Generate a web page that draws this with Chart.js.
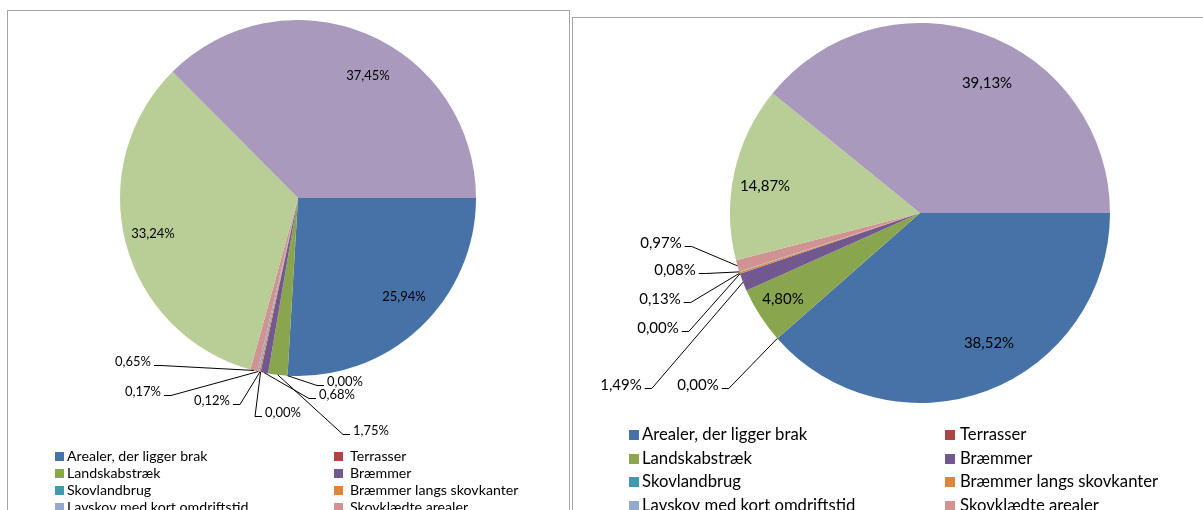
<!DOCTYPE html>
<html>
<head>
<meta charset="utf-8">
<script src="https://cdn.jsdelivr.net/npm/chart.js@4.4.1/dist/chart.umd.min.js"></script>
<style>
    body { margin: 0; background: #fff; width: 1203px; height: 510px; overflow: hidden; position: relative; }
    .box { position: absolute; border: 1px solid #a6a6a6; background: #fff; }
    canvas { position: absolute; }
</style>
</head>
<body>
<div class="box" style="left:7px; top:10px; width:561px; height:540px;"></div>
<div class="box" style="left:572px; top:17px; width:700px; height:540px;"></div>
<canvas id="pieLeft" width="560" height="499" style="left:8px; top:11px;"></canvas>
<canvas id="pieRight" width="630" height="492" style="left:573px; top:18px;"></canvas>
<script>
// kategorier
const categories = [
    'Arealer, der ligger brak',
    'Terrasser',
    'Landskabstræk',
    'Bræmmer',
    'Skovlandbrug',
    'Bræmmer langs skovkanter',
    'Lavskov med kort omdriftstid',
    'Skovklædte arealer',
    'Kvælstoffikserende afgrøder',
    'Efterafgrøder'
];

// andele i procent
const valuesLeft = [25.94, 0.00, 1.75, 0.68, 0.00, 0.12, 0.17, 0.65, 33.24, 37.45];
const valuesRight = [38.52, 0.00, 4.80, 1.49, 0.00, 0.13, 0.08, 0.97, 14.87, 39.13];

const colors = ['#4672A8', '#AA4643', '#89A54E', '#71588F', '#4198AF',
                '#DB843D', '#93A9CF', '#D19392', '#B9CD96', '#A99ABD'];

// placering af etiketter: [dx, dy fra centrum, ledelinje]
const labelPosLeft = [
    [106, 99, false], [47, 184, true], [73, 233, true], [39, 197, true], [-15, 215, true],
    [-86, 203, true], [-155, 194, true], [-165, 164, true], [-145, 36, false], [70, -122, false]
];
const labelPosRight = [
    [69, 130, false], [-222, 172, true], [-137, 86, false], [-299, 172, true], [-262, 115, true],
    [-260, 86, true], [-245, 57, true], [-259, 30, true], [-155, -27, false], [67, -130, false]
];

function fmt(v) {
    return v.toFixed(2).replace('.', ',') + '%';
}

// tegner procent-etiketter med ledelinjer
const sliceLabels = {
    id: 'sliceLabels',
    afterDatasetsDraw(chart, args, opts) {
        const ctx = chart.ctx;
        const meta = chart.getDatasetMeta(0);
        const data = chart.data.datasets[0].data;
        ctx.save();
        ctx.font = opts.font;
        ctx.fillStyle = '#000';
        ctx.strokeStyle = '#000';
        ctx.lineWidth = 1;
        ctx.textAlign = 'center';
        ctx.textBaseline = 'middle';
        meta.data.forEach((arc, i) => {
            const p = arc.getProps(['x', 'y', 'startAngle', 'endAngle', 'outerRadius'], true);
            const pos = opts.positions[i];
            const tx = p.x + pos[0];
            const ty = p.y + pos[1];
            const text = fmt(data[i]);
            if (pos[2]) {
                const mid = (p.startAngle + p.endAngle) / 2;
                const ax = p.x + Math.cos(mid) * p.outerRadius;
                const ay = p.y + Math.sin(mid) * p.outerRadius;
                const w = ctx.measureText(text).width;
                const side = tx < ax ? 1 : -1;
                const ex = tx + side * (w / 2 + 3);
                const ey = Math.round(ty + 3) + 0.5;
                const kx = ex + side * 7;
                ctx.beginPath();
                ctx.moveTo(ex, ey);
                ctx.lineTo(kx, ey);
                ctx.lineTo(ax, ay);
                ctx.stroke();
            }
            ctx.fillText(text, tx, ty);
        });
        ctx.restore();
    }
};

// forklaring i to kolonner
const twoColLegend = {
    id: 'twoColLegend',
    afterDraw(chart, args, opts) {
        const ctx = chart.ctx;
        const labels = chart.data.labels;
        const cols = chart.data.datasets[0].backgroundColor;
        ctx.save();
        ctx.font = opts.font;
        ctx.textAlign = 'left';
        ctx.textBaseline = 'middle';
        labels.forEach((lab, i) => {
            const col = i % 2;
            const row = Math.floor(i / 2);
            const y = opts.top + row * opts.rowHeight;
            const bx = opts.boxX[col];
            ctx.fillStyle = cols[i];
            ctx.fillRect(bx, Math.round(y - opts.box / 2), opts.box, opts.box);
            ctx.fillStyle = '#000';
            ctx.fillText(lab, opts.textX[col], y);
        });
        ctx.restore();
    }
};

function makePie(id, values, positions, padding, labelFont, legendOpts) {
    return new Chart(document.getElementById(id).getContext('2d'), {
        type: 'pie',
        data: {
            labels: categories,
            datasets: [{
                data: values,
                backgroundColor: colors,
                borderWidth: 0
            }]
        },
        options: {
            responsive: false,
            animation: false,
            events: [],
            rotation: 90,
            layout: { padding: padding },
            plugins: {
                legend: { display: false },
                tooltip: { enabled: false },
                sliceLabels: { positions: positions, font: labelFont },
                twoColLegend: legendOpts
            }
        },
        plugins: [sliceLabels, twoColLegend]
    });
}

const leftChart = makePie('pieLeft', valuesLeft, labelPosLeft,
    { left: 112, right: 92, top: 9, bottom: 134 },
    '13px Lato',
    { font: '14.2px Lato', top: 445, rowHeight: 17, box: 9, boxX: [47, 326], textX: [59, 342] });

const rightChart = makePie('pieRight', valuesRight, labelPosRight,
    { left: 157, right: 93, top: 5, bottom: 107 },
    '15px Lato',
    { font: '16.7px Lato', top: 417, rowHeight: 23.5, box: 10, boxX: [56, 372], textX: [69, 387] });
</script>
</body>
</html>
